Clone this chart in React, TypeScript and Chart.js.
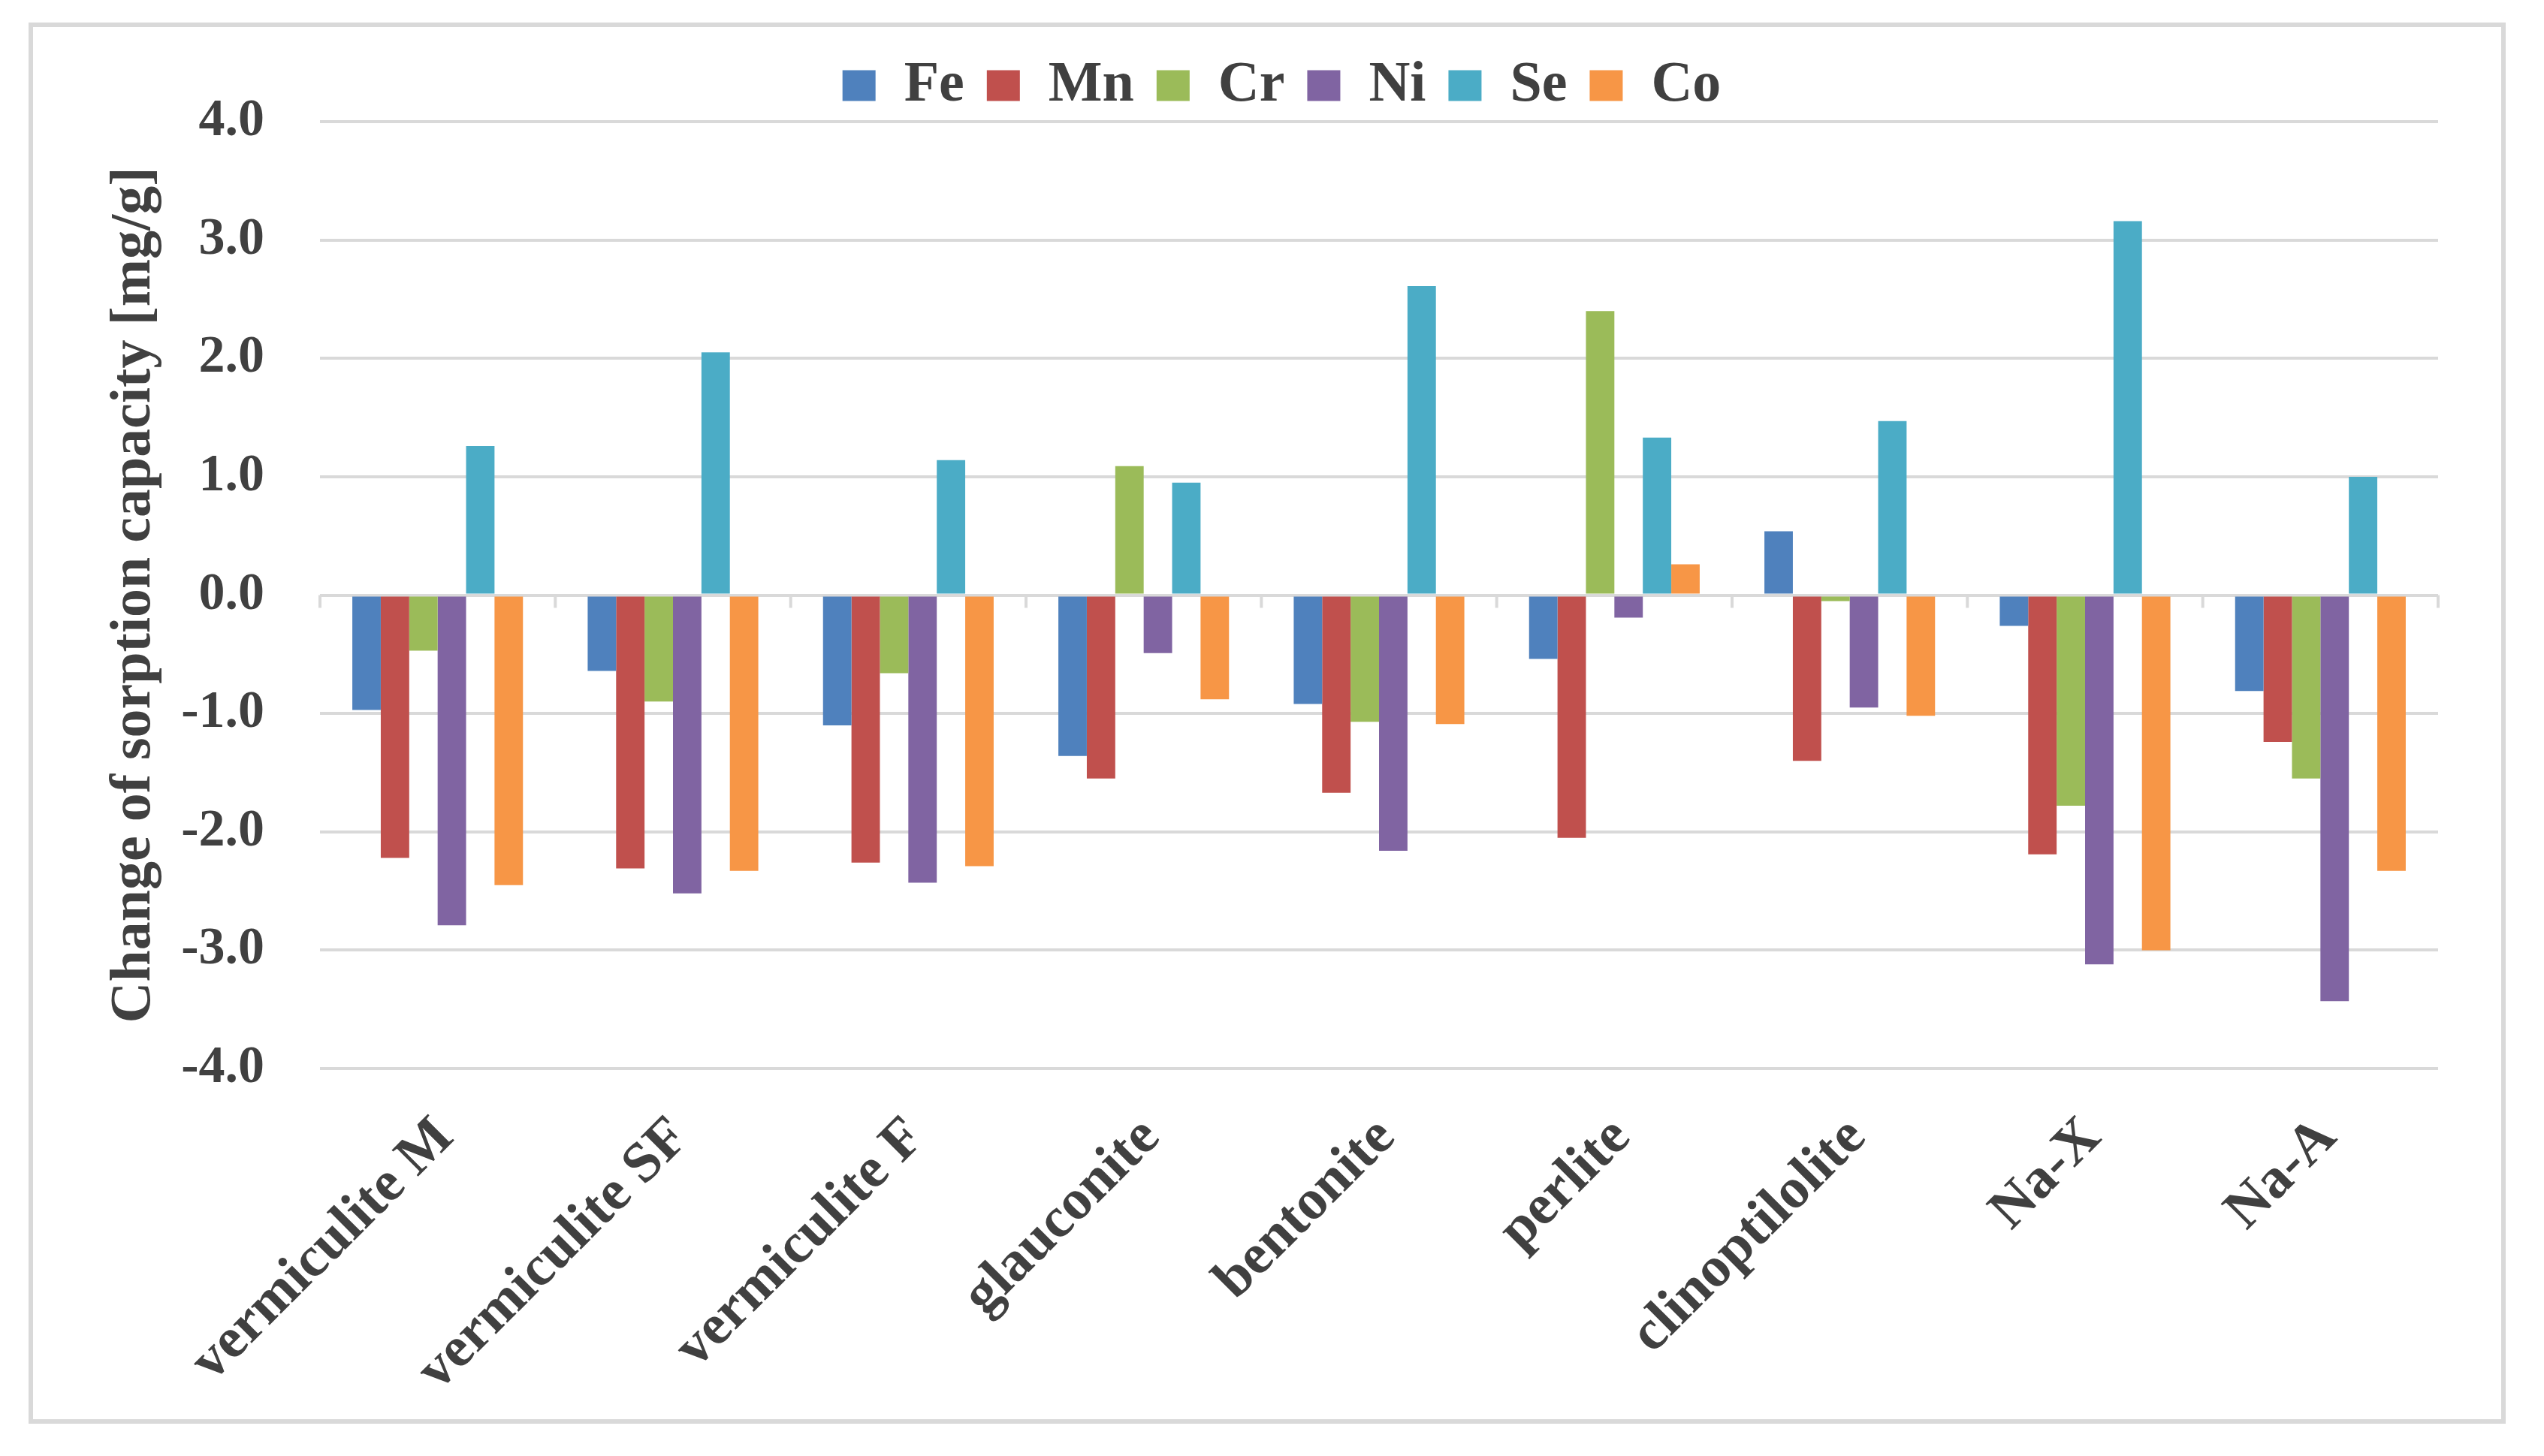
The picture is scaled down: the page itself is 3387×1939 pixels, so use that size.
import React, { useEffect, useRef } from "react";
import { Chart, registerables } from "chart.js";

Chart.register(...registerables);

const categories = [
  "vermiculite M",
  "vermiculite SF",
  "vermiculite F",
  "glauconite",
  "bentonite",
  "perlite",
  "clinoptilolite",
  "Na-X",
  "Na-A",
];
const seriesNames = ["Fe", "Mn", "Cr", "Ni", "Se", "Co"];
const feValues = [-0.97, -0.64, -1.1, -1.36, -0.92, -0.54, 0.54, -0.26, -0.81];
const mnValues = [-2.22, -2.31, -2.26, -1.55, -1.67, -2.05, -1.4, -2.19, -1.24];
const crValues = [-0.47, -0.9, -0.66, 1.09, -1.07, 2.4, -0.05, -1.78, -1.55];
const niValues = [-2.79, -2.52, -2.43, -0.49, -2.16, -0.19, -0.95, -3.12, -3.43];
const seValues = [1.26, 2.05, 1.14, 0.95, 2.61, 1.33, 1.47, 3.16, 1.0];
const coValues = [-2.45, -2.33, -2.29, -0.88, -1.09, 0.26, -1.02, -3.0, -2.33];
const seriesColors = ["#4F81BD", "#C0504D", "#9BBB59", "#8064A2", "#4BACC6", "#F79646"];
const yTicks = [-4, -3, -2, -1, 0, 1, 2, 3, 4];
const yTitle = "Change of sorption capacity [mg/g]";

const FONT = "'Liberation Serif', 'Times New Roman', serif";
const TEXT = "#404040";
const GRID = "#d9d9d9";

const zeroTicks = {
  id: "zeroTicks",
  afterLayout(chart: any) {
    if (chart.legend) {
      chart.legend.left += 24;
      chart.legend.right += 24;
    }
  },
  beforeDatasetsDraw(chart: any) {
    const xs = chart.scales.x;
    const ys = chart.scales.y;
    const ctx = chart.ctx;
    const y0 = ys.getPixelForValue(0);
    ctx.save();
    ctx.strokeStyle = GRID;
    ctx.lineWidth = 4;
    for (let i = 0; i <= categories.length; i++) {
      const x = xs.getPixelForValue(i - 0.5);
      ctx.beginPath();
      ctx.moveTo(x, y0);
      ctx.lineTo(x, y0 + 17);
      ctx.stroke();
    }
    ctx.restore();
  },
};

export default function App() {
  const ref = useRef<HTMLCanvasElement | null>(null);

  useEffect(() => {
    if (!ref.current) return;
    const values = [feValues, mnValues, crValues, niValues, seValues, coValues];
    const chart = new Chart(ref.current, {
      type: "bar",
      data: {
        labels: categories,
        datasets: seriesNames.map((name, i) => ({
          label: name,
          data: values[i],
          backgroundColor: seriesColors[i],
          borderWidth: 0,
          categoryPercentage: 0.725,
          barPercentage: 1.0,
        })),
      },
      plugins: [zeroTicks],
      options: {
        animation: false,
        responsive: true,
        maintainAspectRatio: false,
        devicePixelRatio: 1,
        layout: { padding: { top: 10, left: 75, right: 84, bottom: 0 } },
        plugins: {
          tooltip: { enabled: false },
          legend: {
            position: "top",
            labels: {
              color: TEXT,
              font: { family: FONT, size: 76, weight: "bold" },
              boxWidth: 44,
              boxHeight: 41,
              padding: 30,
            },
          },
        },
        scales: {
          x: {
            grid: { display: false },
            border: { display: false },
            afterFit: (s: any) => {
              s.paddingLeft = 0;
              s.paddingRight = 0;
              s.height = 467;
            },
            ticks: {
              color: TEXT,
              font: { family: FONT, size: 76, weight: "bold" },
              minRotation: 45,
              maxRotation: 45,
              padding: 40,
              labelOffset: 10,
              autoSkip: false,
            },
          },
          y: {
            min: -4,
            max: 4,
            afterBuildTicks: (s: any) => {
              s.ticks = yTicks.map((v) => ({ value: v }));
            },
            afterFit: (s: any) => {
              s.width = 307;
            },
            grid: { color: GRID, lineWidth: 4, drawTicks: false },
            border: { display: false },
            ticks: {
              color: TEXT,
              font: { family: FONT, size: 70, weight: "bold" },
              padding: 74,
              callback: (v: any) => Number(v).toFixed(1),
            },
            title: {
              display: true,
              text: yTitle,
              color: TEXT,
              font: { family: FONT, size: 76, weight: "bold" },
              padding: { top: 15, bottom: 15 },
            },
          },
        },
      },
    });
    return () => chart.destroy();
  }, []);

  return (
    <div style={{ position: "absolute", left: 0, top: 0, width: 3387, height: 1939, background: "#ffffff" }}>
      <div
        style={{
          position: "absolute",
          left: 38,
          top: 30,
          width: 3286,
          height: 1854,
          border: `6px solid ${GRID}`,
          background: "#ffffff",
        }}
      >
        <canvas ref={ref} style={{ width: "100%", height: "100%" }} />
      </div>
    </div>
  );
}
